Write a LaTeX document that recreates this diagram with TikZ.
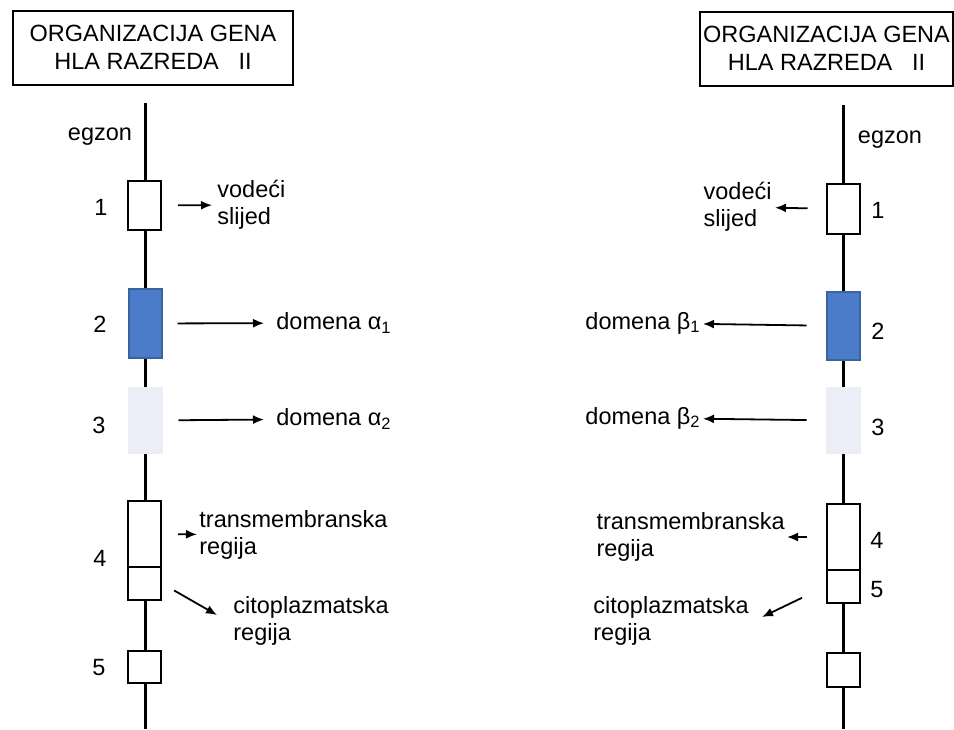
\documentclass[tikz,border=0pt]{standalone}
\usepackage{fontspec}
\setmainfont{Liberation Sans}
\usetikzlibrary{positioning,arrows.meta}
\definecolor{exonblue}{RGB}{74,124,202}
\definecolor{exonpale}{RGB}{236,238,247}

\begin{document}
\begin{tikzpicture}[x=0.5pt,y=-0.5pt,>={Latex[length=5.5pt,width=4.5pt]},
		font=\fontsize{11.75}{13.75}\selectfont,
		exon/.style={draw, line width=1pt, fill=white, minimum width=16.5pt, inner sep=0pt},
		lbl/.style={align=left, inner sep=0pt},
		header/.style={draw, line width=1pt, align=center, inner sep=0pt, minimum height=37pt,
			font=\fontsize{11.75}{14}\selectfont},
		gene/.style={line width=1.5pt},
		pointer/.style={->, line width=0.9pt}]
		\useasboundingbox (0,0) rectangle (954,729);

		% left gene
		\coordinate (ltop) at (145,103);
		\coordinate (lbot) at (145,729);
		\draw[gene] (ltop) -- (lbot);
		\draw (153,47.5) node [header, minimum width=140pt] (lhead) {ORGANIZACIJA\ GENA\\HLA\ RAZREDA\ \ \ II};
		\draw (100,137) node (legz) {egzon};
		\draw (144.5,205.5) node [exon, minimum height=24.5pt] (lb1) {};
		\draw (145,323.5) node [exon, fill=exonblue, draw=exonblue!80!black, minimum height=34.5pt] (lb2) {};
		\draw (145,420.5) node [exon, fill=exonpale, draw=exonpale, minimum height=32.5pt] (lb3) {};
		\draw (144.5,534) node [exon, minimum height=33pt] (lb4) {};
		\draw (144.5,583.5) node [exon, minimum height=16.5pt] (lb4b) {};
		\draw (144.5,667) node [exon, minimum height=16pt] (lb5) {};
		\draw (101,207) node (ln1) {1};
		\draw (100,324) node (ln2) {2};
		\draw (99,425) node (ln3) {3};
		\draw (100,558) node (ln4) {4};
		\draw (99,668) node (ln5) {5};
		\draw (217,205) node [lbl, anchor=west] (lvod) {vodeći\\slijed};
		\draw (276,323) node [lbl, anchor=west] (ld1) {domena α\textsubscript{1}};
		\draw (276,419) node [lbl, anchor=west] (ld2) {domena α\textsubscript{2}};
		\draw (199,535) node [lbl, anchor=west] (ltm) {transmembranska\\regija};
		\draw (233,621) node [lbl, anchor=west] (lcit) {citoplazmatska\\regija};
		\coordinate (lcit-tip) at (217,615);
		\path[pointer]
			(lb1) edge [shorten <=8pt, shorten >=2.5pt] (lvod)
			(lb2) edge [shorten <=7.5pt, shorten >=6pt] (ld1)
			(lb3) edge [shorten <=8pt, shorten >=6pt] (ld2)
			(lb4) edge [shorten <=8pt, shorten >=1pt] (ltm)
			(lb4b.east) edge [shorten <=7pt] (lcit-tip);

		% right gene
		\coordinate (rtop) at (843,105);
		\coordinate (rbot) at (843,729);
		\draw[gene] (rtop) -- (rbot);
		\draw (826.5,48.5) node [header, minimum width=126.5pt] (rhead) {ORGANIZACIJA\ GENA\\HLA\ RAZREDA\ \ \ II};
		\draw (890,140) node (regz) {egzon};
		\draw (843,209) node [exon, minimum height=25pt] (rb1) {};
		\draw (843,326) node [exon, fill=exonblue, draw=exonblue!80!black, minimum height=34pt] (rb2) {};
		\draw (843,420.5) node [exon, fill=exonpale, draw=exonpale, minimum height=32.5pt] (rb3) {};
		\draw (843,537) node [exon, minimum height=33pt] (rb4) {};
		\draw (843,586.5) node [exon, minimum height=16.5pt] (rb4b) {};
		\draw (843,670) node [exon, minimum height=17pt] (rb5) {};
		\draw (878,210) node (rn1) {1};
		\draw (878,331) node (rn2) {2};
		\draw (878,427) node (rn3) {3};
		\draw (877,540) node (rn4) {4};
		\draw (877,590) node (rn5) {5};
		\draw (772,207) node [lbl, anchor=east] (rvod) {vodeći\\slijed};
		\draw (701,323) node [lbl, anchor=east] (rd1) {domena β\textsubscript{1}};
		\draw (701,418) node [lbl, anchor=east] (rd2) {domena β\textsubscript{2}};
		\draw (785,537) node [lbl, anchor=east] (rtm) {transmembranska\\regija};
		\draw (593,621) node [lbl, anchor=west] (rcit) {citoplazmatska\\regija};
		\coordinate (rcit-tip) at (762,617);
		\path[pointer]
			(rb1) edge [shorten <=9pt, shorten >=1.5pt] (rvod)
			(rb2) edge [shorten <=9.5pt, shorten >=1pt] (rd1)
			(rb3) edge [shorten <=9.5pt, shorten >=1pt] (rd2)
			(rb4) edge [shorten <=9.5pt, shorten >=1pt] (rtm)
			(rb4b.west) edge [shorten <=13pt] (rcit-tip);
	\end{tikzpicture}
\end{document}
